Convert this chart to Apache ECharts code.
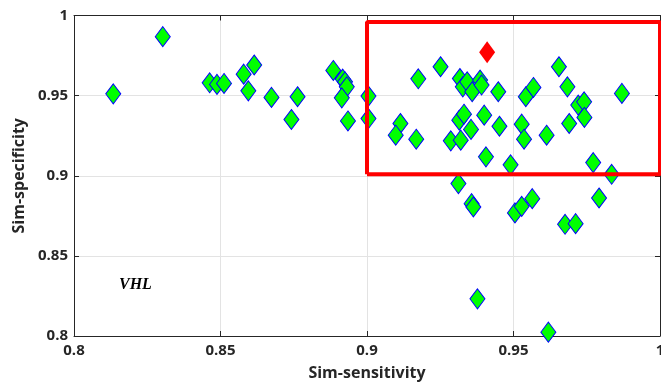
<!DOCTYPE html>
<html>
<head>
<meta charset="utf-8">
<script src="https://cdn.jsdelivr.net/npm/echarts@6/dist/echarts.min.js"></script>
<style>html,body{margin:0;padding:0;background:#fff}#c{width:661px;height:385px}</style>
</head>
<body>
<div id="c"></div>
<script>
const sensitivity = [0.8134,0.8303,0.8463,0.8488,0.8512,0.8579,0.8615,0.8595,0.8674,0.8763,0.8742,0.8885,0.8917,0.8925,0.8931,0.8914,0.8935,0.9005,0.9005,
0.9175,0.9251,0.9114,0.9098,0.9168,0.9286,0.932,0.9315,0.9331,0.9355,0.94,0.9452,0.9406,0.949,0.9317,0.9327,0.9342,0.9359,0.9386,0.9391,0.9448,0.9542,0.9568,0.9528,0.9536,0.9613,0.9655,0.9684,0.9721,0.9741,0.9742,0.969,0.987,0.9772,0.9835,
0.9312,0.9357,0.9363,0.9505,0.9528,0.9564,0.9676,0.9712,0.9792,0.9377,0.9619];
const specificity = [0.9511,0.9868,0.958,0.957,0.9576,0.9634,0.9691,0.953,0.9489,0.9493,0.9351,0.9657,0.9603,0.9586,0.9555,0.9486,0.9342,0.9497,0.9357,
0.9605,0.968,0.9326,0.9253,0.9228,0.9218,0.9222,0.9347,0.9384,0.9289,0.9378,0.9309,0.9118,0.9068,0.9607,0.9555,0.9586,0.9524,0.9597,0.9566,0.9524,0.9493,0.9551,0.9322,0.9228,0.9253,0.968,0.9555,0.9441,0.9461,0.9364,0.9326,0.9514,0.9082,0.9009,
0.8951,0.8826,0.8805,0.8768,0.8809,0.8857,0.8697,0.8701,0.8861,0.8232,0.8024];
const highlightSens = [0.941];
const highlightSpec = [0.977];
const boxX = [0.9, 1.0, 1.0, 0.9, 0.9];
const boxY = [0.901, 0.901, 0.996, 0.996, 0.901];
const xTicks = [0.8, 0.85, 0.9, 0.95, 1];
const yTicks = [0.8, 0.85, 0.9, 0.95, 1];

const pts = sensitivity.map((v,i)=>[v, specificity[i]]);
const red = highlightSens.map((v,i)=>[v, highlightSpec[i]]);
const box = boxX.map((v,i)=>[v, boxY[i]]);
const fmt = v => String(Math.round(v*100)/100);
const lblFont = {fontFamily:'Open Sans', fontWeight:'bold', fontSize:15, color:'#262626'};
const nameFont = {fontFamily:'Open Sans', fontWeight:'bold', fontSize:16, color:'#262626'};
const axLine = {show:true, lineStyle:{color:'#262626', width:1}};
const tick = {show:true, inside:true, length:5, lineStyle:{color:'#262626'}};

const chart = echarts.init(document.getElementById('c'));
chart.setOption({
  animation:false,
  grid:{left:74, right:1, top:15.5, bottom:49, containLabel:false, outerBoundsMode:'none'},
  xAxis:[
    {type:'value', min:0.8, max:1, interval:0.05, position:'bottom',
     axisLine:axLine, axisTick:tick,
     axisLabel:Object.assign({margin:7, formatter:fmt}, lblFont),
     splitLine:{show:true, lineStyle:{color:'#e3e3e3', width:1}},
     name:'Sim-sensitivity', nameLocation:'middle', nameGap:29,
     nameTextStyle:nameFont},
    {type:'value', min:0.8, max:1, interval:0.05, position:'top',
     axisLine:axLine, axisTick:tick, axisLabel:{show:false}, splitLine:{show:false}}
  ],
  yAxis:[
    {type:'value', min:0.8, max:1, interval:0.05, position:'left',
     axisLine:axLine, axisTick:tick,
     axisLabel:Object.assign({margin:6, formatter:fmt}, lblFont),
     splitLine:{show:true, lineStyle:{color:'#e3e3e3', width:1}},
     name:'Sim-specificity', nameLocation:'middle', nameGap:44,
     nameTextStyle:nameFont},
    {type:'value', min:0.8, max:1, interval:0.05, position:'right',
     axisLine:axLine, axisTick:tick, axisLabel:{show:false}, splitLine:{show:false}}
  ],
  series:[
    {type:'scatter', data:pts, symbol:'diamond', symbolSize:[15,20],
     itemStyle:{color:'#00ff00', borderColor:'#0000ff', borderWidth:1, opacity:1}, z:3},
    {type:'scatter', data:red, symbol:'diamond', symbolSize:[16,22],
     itemStyle:{color:'#ff0000', borderColor:'#ff0000', borderWidth:0, opacity:1}, z:4},
    {type:'line', data:box, symbol:'none', clip:false,
     lineStyle:{color:'#ff0000', width:4}, z:5}
  ],
  graphic:[
    {type:'text', left:119, top:277, z:10,
     style:{text:'VHL', font:'italic bold 16px "Liberation Serif"', fill:'#000'}}
  ]
});
</script>
</body>
</html>
